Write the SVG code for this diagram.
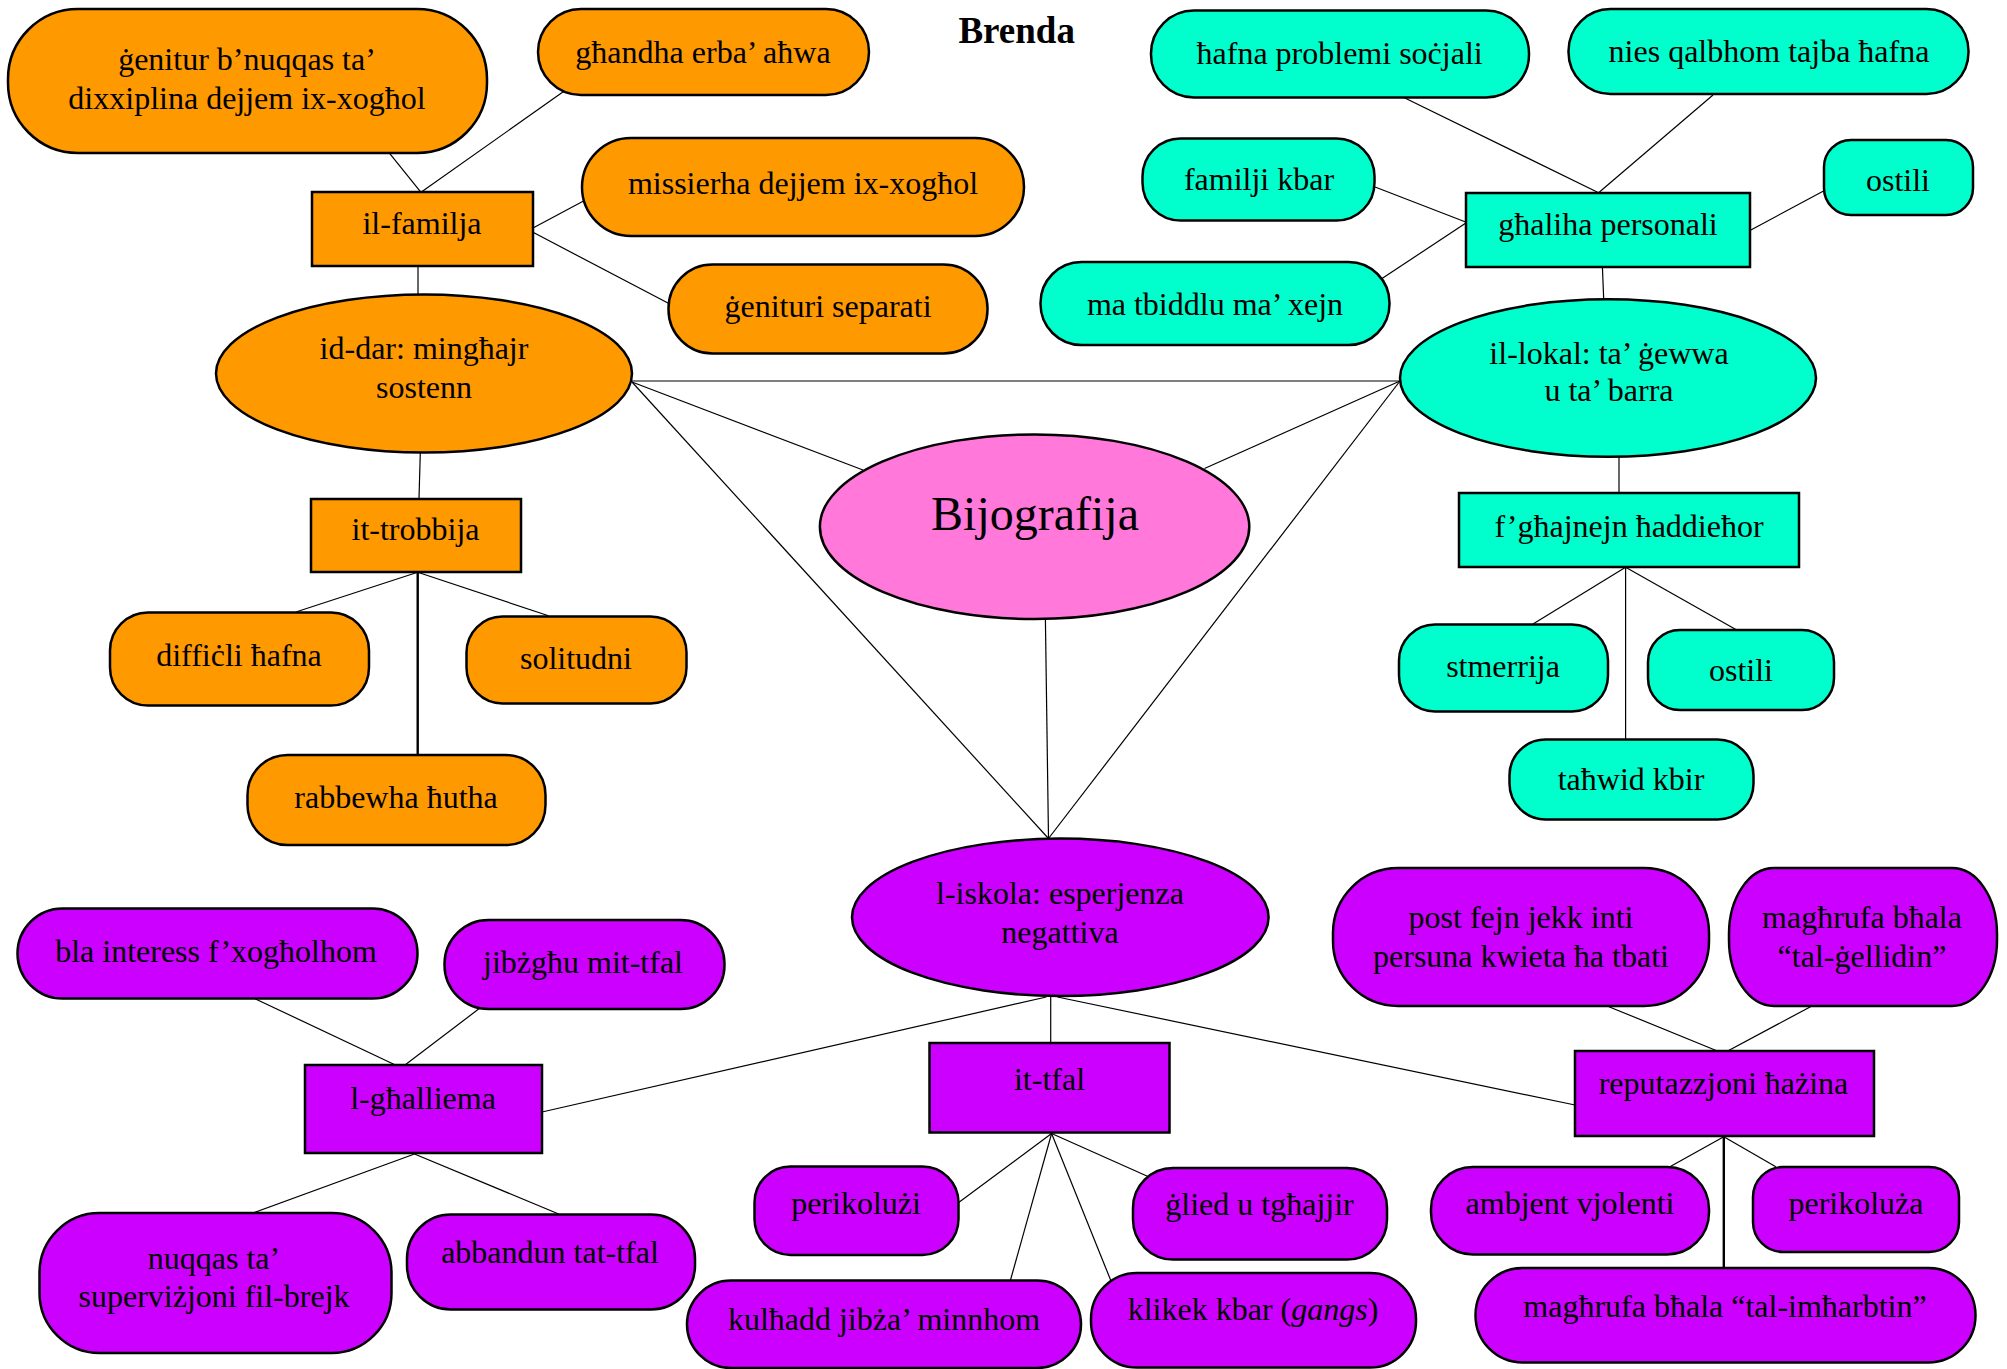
<svg xmlns="http://www.w3.org/2000/svg" width="2007" height="1369" viewBox="0 0 2007 1369">
<style>
.o{fill:#FF9900;stroke:#000;stroke-width:2.5}
.t{fill:#00FFCC;stroke:#000;stroke-width:2.5}
.p{fill:#CC00FF;stroke:#000;stroke-width:2.5}
.b{fill:#FF78DA;stroke:#000;stroke-width:2.5}
text{font-family:"Liberation Serif","Times New Roman",serif;font-size:32px;fill:#000;text-anchor:middle}
.big{font-size:48px}
.title{font-size:37px;font-weight:bold}
#connectors line{stroke:#000;stroke-width:1.2}
#connectors line.thick{stroke-width:2.4}
</style>
<rect width="2007" height="1369" fill="#fff"/>
<g id="connectors">
<line x1="389" y1="152.7" x2="421" y2="192.3"/>
<line x1="565.7" y1="90" x2="421" y2="192.3"/>
<line x1="533" y1="228" x2="583.5" y2="201"/>
<line x1="533" y1="232.3" x2="668.4" y2="303.3"/>
<line x1="418" y1="265.7" x2="418" y2="294.7"/>
<line x1="632" y1="381" x2="1400" y2="381"/>
<line x1="632" y1="382" x2="863" y2="470"/>
<line x1="632" y1="382" x2="1048.5" y2="838.5"/>
<line x1="420.3" y1="452.7" x2="419" y2="498.7"/>
<line x1="417.7" y1="572.3" x2="296.6" y2="611.7"/>
<line x1="417.7" y1="572.3" x2="548.5" y2="615.7"/>
<line class="thick" x1="417.7" y1="572.3" x2="417.7" y2="754.7"/>
<line x1="1403.3" y1="97.3" x2="1598.6" y2="192.7"/>
<line x1="1713" y1="95" x2="1598.6" y2="192.7"/>
<line x1="1374.4" y1="186.7" x2="1466.3" y2="222.3"/>
<line x1="1380.9" y1="279.3" x2="1466.3" y2="222.7"/>
<line x1="1824" y1="190.7" x2="1749.5" y2="230.7"/>
<line x1="1602.4" y1="266.7" x2="1603.7" y2="299.3"/>
<line x1="1400" y1="381" x2="1204.5" y2="468.5"/>
<line x1="1400" y1="381" x2="1048.5" y2="838.5"/>
<line x1="1619" y1="456.7" x2="1619" y2="493.3"/>
<line x1="1625.6" y1="567.3" x2="1533" y2="624"/>
<line x1="1625.6" y1="567.3" x2="1736.7" y2="630"/>
<line x1="1625.6" y1="567.3" x2="1625.6" y2="739.3"/>
<line x1="1045.4" y1="619" x2="1048.5" y2="838.5"/>
<line x1="1046.3" y1="997" x2="542" y2="1112"/>
<line x1="1050.7" y1="997" x2="1050.7" y2="1043"/>
<line x1="1057.4" y1="997" x2="1575" y2="1105"/>
<line x1="255" y1="998.7" x2="395.4" y2="1065"/>
<line x1="479.6" y1="1008.3" x2="405" y2="1065"/>
<line x1="414.5" y1="1154" x2="253.8" y2="1212.7"/>
<line x1="414.5" y1="1154" x2="558.7" y2="1214"/>
<line x1="1051.6" y1="1133.5" x2="959" y2="1202.3"/>
<line x1="1051.6" y1="1133.5" x2="1010.5" y2="1280"/>
<line x1="1051.6" y1="1133.5" x2="1111" y2="1281"/>
<line x1="1051.6" y1="1133.5" x2="1148" y2="1176.5"/>
<line x1="1608.9" y1="1006.7" x2="1717.4" y2="1051"/>
<line x1="1810.5" y1="1006.7" x2="1727.7" y2="1051"/>
<line x1="1723.8" y1="1136.7" x2="1669.9" y2="1166.7"/>
<line x1="1723.8" y1="1136.7" x2="1775.8" y2="1166.7"/>
<line class="thick" x1="1723.8" y1="1136.7" x2="1723.8" y2="1267.7"/>
</g>
<g id="title"><text class="title" x="1016.7" y="42.7">Brenda</text></g>

<g id="n-genitur-dixxiplina"><rect class="o" x="8" y="9" width="479" height="144" rx="70" ry="70"/><text x="247" y="70.3">ġenitur b’nuqqas ta’</text><text x="247" y="109.3">dixxiplina dejjem ix-xogħol</text></g>
<g id="n-ghandha-erba-ahwa"><rect class="o" x="538" y="9" width="331" height="86" rx="43" ry="43"/><text x="703" y="62.7">għandha erba’ aħwa</text></g>
<g id="n-il-familja"><rect class="o" x="312" y="192" width="221" height="74"/><text x="422" y="233.7">il-familja</text></g>
<g id="n-missierha"><rect class="o" x="582" y="138" width="442" height="98" rx="49" ry="49"/><text x="803" y="193.7">missierha dejjem ix-xogħol</text></g>
<g id="n-genituri-separati"><rect class="o" x="668.5" y="264.5" width="319" height="89" rx="44" ry="44"/><text x="828" y="317">ġenituri separati</text></g>
<g id="n-id-dar"><ellipse class="o" cx="424" cy="373.5" rx="208" ry="79"/><text x="424" y="359.3">id-dar: mingħajr</text><text x="424" y="397.7">sostenn</text></g>
<g id="n-it-trobbija"><rect class="o" x="311" y="499" width="210" height="73"/><text x="415.5" y="540.3">it-trobbija</text></g>
<g id="n-difficli-hafna"><rect class="o" x="110" y="612.5" width="259" height="93" rx="38" ry="38"/><text x="239" y="666">diffiċli ħafna</text></g>
<g id="n-solitudni"><rect class="o" x="466.5" y="616.5" width="220" height="87" rx="36" ry="36"/><text x="576" y="669.3">solitudni</text></g>
<g id="n-rabbewha-hutha"><rect class="o" x="247.5" y="755" width="298" height="90" rx="40" ry="40"/><text x="396" y="808">rabbewha ħutha</text></g>

<g id="n-hafna-problemi"><rect class="t" x="1151" y="10.5" width="378" height="87" rx="43" ry="43"/><text x="1339.6" y="63.7">ħafna problemi soċjali</text></g>
<g id="n-nies-qalbhom"><rect class="t" x="1568.5" y="9" width="400" height="85" rx="42" ry="42"/><text x="1769" y="62">nies qalbhom tajba ħafna</text></g>
<g id="n-familji-kbar"><rect class="t" x="1142.5" y="138.5" width="232" height="82" rx="38" ry="38"/><text x="1259" y="190.3">familji kbar</text></g>
<g id="n-ostili-1"><rect class="t" x="1824" y="140" width="149" height="75" rx="27" ry="27"/><text x="1898" y="191.3">ostili</text></g>
<g id="n-ghaliha-personali"><rect class="t" x="1466" y="193" width="284" height="74"/><text x="1608" y="235.3">għaliha personali</text></g>
<g id="n-ma-tbiddlu"><rect class="t" x="1040.5" y="262" width="349" height="83" rx="41" ry="41"/><text x="1215" y="314.7">ma tbiddlu ma’ xejn</text></g>
<g id="n-il-lokal"><ellipse class="t" cx="1608" cy="378" rx="208" ry="78.7"/><text x="1609" y="363.7">il-lokal: ta’ ġewwa</text><text x="1609" y="401.3">u ta’ barra</text></g>
<g id="n-fghajnejn"><rect class="t" x="1459" y="493" width="340" height="74"/><text x="1629" y="537">f’għajnejn ħaddieħor</text></g>
<g id="n-stmerrija"><rect class="t" x="1399" y="624.5" width="209" height="87" rx="36" ry="36"/><text x="1503" y="677">stmerrija</text></g>
<g id="n-ostili-2"><rect class="t" x="1648" y="630" width="186" height="80" rx="32" ry="32"/><text x="1741" y="681.3">ostili</text></g>
<g id="n-tahwid-kbir"><rect class="t" x="1509.5" y="739.5" width="244" height="80" rx="36" ry="36"/><text x="1631" y="790.3">taħwid kbir</text></g>

<g id="n-bijografija"><ellipse class="b" cx="1034.6" cy="526.7" rx="214.7" ry="92.3"/><text class="big" x="1035" y="530.3">Bijografija</text></g>

<g id="n-l-iskola"><ellipse class="p" cx="1060.3" cy="917.3" rx="208.3" ry="78.7"/><text x="1060" y="904.2">l-iskola: esperjenza</text><text x="1060" y="942.7">negattiva</text></g>
<g id="n-bla-interess"><rect class="p" x="17.5" y="908.5" width="400" height="90" rx="45" ry="45"/><text x="216" y="962">bla interess f’xogħolhom</text></g>
<g id="n-jibzghu"><rect class="p" x="444.5" y="920" width="280" height="89" rx="44" ry="44"/><text x="583" y="972.7">jibżgħu mit-tfal</text></g>
<g id="n-l-ghalliema"><rect class="p" x="305" y="1065" width="237" height="88"/><text x="423" y="1109.3">l-għalliema</text></g>
<g id="n-nuqqas-supervizjoni"><rect class="p" x="39.5" y="1213" width="352" height="140" rx="60" ry="60"/><text x="214" y="1268.7">nuqqas ta’</text><text x="214" y="1307">superviżjoni fil-brejk</text></g>
<g id="n-abbandun"><rect class="p" x="407" y="1214.5" width="288" height="95" rx="44" ry="44"/><text x="550" y="1262.7">abbandun tat-tfal</text></g>
<g id="n-it-tfal"><rect class="p" x="929.5" y="1043" width="240" height="89.5"/><text x="1049.5" y="1089.8">it-tfal</text></g>
<g id="n-perikolu-zi"><rect class="p" x="754.5" y="1166.5" width="204" height="88.5" rx="36" ry="36"/><text x="856" y="1213.7">perikolużi</text></g>
<g id="n-kulhadd"><rect class="p" x="687" y="1280.5" width="394" height="87.5" rx="44" ry="44"/><text x="884" y="1329.8">kulħadd jibża’ minnhom</text></g>
<g id="n-glied"><rect class="p" x="1133" y="1168" width="254" height="91.5" rx="40" ry="40"/><text x="1259.5" y="1215.3">ġlied u tgħajjir</text></g>
<g id="n-klikek"><rect class="p" x="1091" y="1273" width="325" height="94.5" rx="46" ry="46"/><text x="1253" y="1320.3">klikek kbar (<tspan font-style="italic">gangs</tspan>)</text></g>
<g id="n-post-fejn"><rect class="p" x="1333" y="868" width="376" height="138" rx="65" ry="65"/><text x="1521" y="928">post fejn jekk inti</text><text x="1521" y="967">persuna kwieta ħa tbati</text></g>
<g id="n-tal-gellidin"><rect class="p" x="1729" y="868" width="268" height="138" rx="45" ry="66"/><text x="1862" y="928">magħrufa bħala</text><text x="1862" y="967">“tal-ġellidin”</text></g>
<g id="n-reputazzjoni"><rect class="p" x="1575" y="1051" width="299" height="85"/><text x="1723.5" y="1093.7">reputazzjoni ħażina</text></g>
<g id="n-ambjent"><rect class="p" x="1431" y="1167" width="278" height="87.5" rx="42" ry="42"/><text x="1570" y="1213.7">ambjent vjolenti</text></g>
<g id="n-perikoluza"><rect class="p" x="1753" y="1167" width="206" height="85" rx="30" ry="30"/><text x="1856" y="1213.7">perikoluża</text></g>
<g id="n-tal-imharbtin"><rect class="p" x="1475.5" y="1268" width="500" height="94.5" rx="47" ry="47"/><text x="1725" y="1317">magħrufa bħala “tal-imħarbtin”</text></g>
</svg>
